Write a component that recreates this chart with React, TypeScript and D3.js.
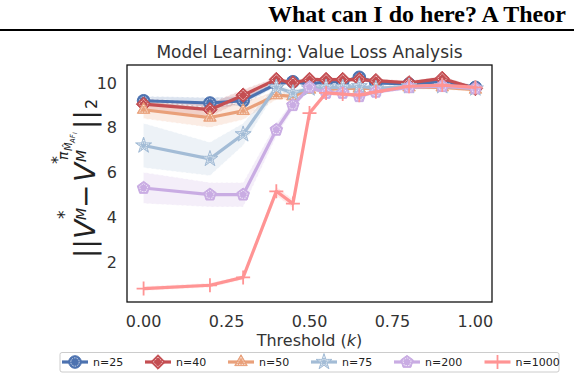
import React from "react";
import * as d3 from "d3";

// threshold values (k) sampled in the experiment
const thresholds = [0, 0.2, 0.3, 0.4, 0.45, 0.5, 0.55, 0.6, 0.65, 0.7, 0.8, 0.9, 1.0];

// mean value loss per sample size
const loss25 = [9.2, 9.1, 9.2, 9.95, 10.05, 9.95, 10.05, 10.05, 10.25, 10.0, 9.95, 10.05, 9.8];
const loss40 = [9.05, 8.8, 9.45, 10.15, 10.0, 10.15, 10.15, 10.15, 10.15, 10.1, 10.0, 10.2, 9.75];
const loss50 = [8.8, 8.45, 8.75, 9.45, 9.4, 9.7, 9.7, 9.75, 9.75, 9.75, 9.8, 9.8, 9.7];
const loss75 = [7.2, 6.6, 7.7, 9.8, 9.55, 9.75, 9.8, 9.8, 9.85, 9.75, 9.85, 9.85, 9.75];
const loss200 = [5.3, 5.0, 5.0, 7.9, 9.0, 9.8, 9.55, 9.55, 9.4, 9.6, 9.8, 9.85, 9.75];
const loss1000 = [0.8, 0.95, 1.3, 5.15, 4.6, 8.65, 9.55, 9.5, 9.45, 9.6, 9.85, 9.9, 9.8];

// half width of the shaded band
const spread25 = [0.2, 0.25, 0.2, 0.1, 0.1, 0.1, 0.1, 0.1, 0.1, 0.1, 0.1, 0.1, 0.1];
const spread40 = [0.25, 0.3, 0.25, 0.1, 0.1, 0.1, 0.1, 0.1, 0.1, 0.1, 0.1, 0.1, 0.1];
const spread50 = [0.4, 0.45, 0.4, 0.2, 0.15, 0.1, 0.1, 0.1, 0.1, 0.1, 0.1, 0.1, 0.1];
const spread75 = [1.0, 0.75, 0.5, 0.15, 0.15, 0.1, 0.1, 0.1, 0.1, 0.1, 0.1, 0.1, 0.1];
const spread200 = [0.7, 0.55, 0.55, 0.3, 0.2, 0.1, 0.1, 0.1, 0.1, 0.1, 0.1, 0.1, 0.1];
const spread1000 = [0.1, 0.1, 0.1, 0.2, 0.2, 0.15, 0.1, 0.1, 0.1, 0.1, 0.1, 0.1, 0.1];

const seriesNames = ["n=25", "n=40", "n=50", "n=75", "n=200", "n=1000"];
const seriesColors = ["#4c72b0", "#c44e52", "#e9a07a", "#a3bcd6", "#c9ace3", "#ff9494"];
const seriesMarkers = ["circle", "diamond", "triangle", "star", "pentagon", "plus"];
const seriesLoss = [loss25, loss40, loss50, loss75, loss200, loss1000];
const seriesSpread = [spread25, spread40, spread50, spread75, spread200, spread1000];

const xTicks = [0, 0.25, 0.5, 0.75, 1.0];
const yTicks = [2, 4, 6, 8, 10];

const W = 574;
const H = 374;
const frame = { left: 127, right: 492, top: 65, bottom: 302 };
const font = "DejaVu Sans, sans-serif";

const x = d3.scaleLinear().domain([-0.05, 1.05]).range([frame.left, frame.right]);
const y = d3.scaleLinear().domain([0.2, 10.8]).range([frame.bottom, frame.top]);

function polygon(n: number, r: number, rot = -Math.PI / 2) {
  const pts = d3.range(n).map((i) => {
    const a = rot + (i * 2 * Math.PI) / n;
    return [r * Math.cos(a), r * Math.sin(a)];
  });
  return "M" + pts.map((p) => p.join(",")).join("L") + "Z";
}

function markerPath(kind: string, r: number) {
  if (kind === "circle") return d3.symbol(d3.symbolCircle, Math.PI * r * r)()!;
  if (kind === "diamond") return `M0,${-r * 1.15}L${r * 1.15},0L0,${r * 1.15}L${-r * 1.15},0Z`;
  if (kind === "triangle") return polygon(3, r * 1.15, -Math.PI / 2);
  if (kind === "star") return d3.symbol(d3.symbolStar, r * r * 2.0)()!;
  if (kind === "pentagon") return polygon(5, r * 1.05);
  return `M${-r},0L${r},0M0,${-r}L0,${r}`;
}

const Marker = ({ kind, color, cx, cy }: { kind: string; color: string; cx: number; cy: number }) => {
  if (kind === "plus") {
    return (
      <path d={markerPath(kind, 7)} transform={`translate(${cx},${cy})`} stroke={color} strokeWidth={1.8} fill="none" />
    );
  }
  return (
    <g transform={`translate(${cx},${cy})`}>
      <path d={markerPath(kind, 6.3)} fill={color} stroke={color} strokeWidth={1} />
      <path d={markerPath(kind, 4.2)} fill="none" stroke="#fff" strokeWidth={0.8} strokeDasharray="1.6,1" opacity={0.85} />
    </g>
  );
};

const line = d3.line<number>().x((_, i) => x(thresholds[i])).y((d) => y(d));

const App = () => {
  const legendGap = (label: string) => 53 + label.length * 7.5;
  const legendX: number[] = [];
  seriesNames.forEach((nm, i) => legendX.push(i === 0 ? 62 : legendX[i - 1] + legendGap(seriesNames[i - 1])));

  return (
    <svg width={W} height={H} style={{ position: "absolute", left: 0, top: 0, background: "#fff" }} fontFamily={font}>
      {/* page header (cropped running title) */}
      <text x={268} y={22} fontFamily="Liberation Serif, Times New Roman, serif" fontWeight="bold" fontSize={24} fill="#000">
        What can I do here? A Theor
      </text>
      <line x1={0} x2={W} y1={30} y2={30} stroke="#000" strokeWidth={2} />

      <text x={(frame.left + frame.right) / 2} y={58} textAnchor="middle" fontSize={17} fill="#333">
        Model Learning: Value Loss Analysis
      </text>

      {/* bands */}
      {seriesLoss.map((vals, si) => {
        const area = d3
          .area<number>()
          .x((_, i) => x(thresholds[i]))
          .y0((d, i) => y(d - seriesSpread[si][i]))
          .y1((d, i) => y(d + seriesSpread[si][i]));
        const lo = d3.line<number>().x((_, i) => x(thresholds[i])).y((d, i) => y(d - seriesSpread[si][i]));
        const hi = d3.line<number>().x((_, i) => x(thresholds[i])).y((d, i) => y(d + seriesSpread[si][i]));
        return (
          <g key={"band" + si}>
            <path d={area(vals)!} fill={seriesColors[si]} opacity={0.2} />
            <path d={lo(vals)!} fill="none" stroke="#fff" strokeWidth={1} strokeDasharray="3,2" opacity={0.8} />
            <path d={hi(vals)!} fill="none" stroke="#fff" strokeWidth={1} strokeDasharray="3,2" opacity={0.8} />
          </g>
        );
      })}

      {/* lines and markers */}
      {seriesLoss.map((vals, si) => (
        <g key={"s" + si}>
          <path d={line(vals)!} fill="none" stroke={seriesColors[si]} strokeWidth={3.2} strokeLinejoin="round" />
          {vals.map((v, i) => (
            <Marker key={i} kind={seriesMarkers[si]} color={seriesColors[si]} cx={x(thresholds[i])} cy={y(v)} />
          ))}
        </g>
      ))}

      {/* frame */}
      <rect
        x={frame.left}
        y={frame.top}
        width={frame.right - frame.left}
        height={frame.bottom - frame.top}
        fill="none"
        stroke="#111"
        strokeWidth={1.3}
      />

      {/* ticks */}
      {xTicks.map((t) => (
        <text key={t} x={x(t)} y={327} textAnchor="middle" fontSize={16} fill="#333">
          {t.toFixed(2)}
        </text>
      ))}
      {yTicks.map((t) => (
        <text key={t} x={117} y={y(t)} dy="0.36em" textAnchor="end" fontSize={16} fill="#333">
          {t}
        </text>
      ))}

      <text x={(frame.left + frame.right) / 2} y={346} textAnchor="middle" fontSize={16} fill="#333">
        Threshold (<tspan fontStyle="italic">k</tspan>)
      </text>

      {/* y label: ||V*_M - V*^{pi}_M||_2 */}
      <g fill="#222">
        <text transform="translate(95,258) rotate(-90)" fontSize={28}>||</text>
        <text transform="translate(95,239) rotate(-90)" fontSize={28} fontStyle="italic">V</text>
        <text transform="translate(70,219) rotate(-90)" fontSize={17}>*</text>
        <text transform="translate(86,220) rotate(-90)" fontSize={14} fontStyle="italic">M</text>
        <text transform="translate(95,208) rotate(-90)" fontSize={28}>−</text>
        <text transform="translate(95,182) rotate(-90)" fontSize={28} fontStyle="italic">V</text>
        <text transform="translate(63,164) rotate(-90)" fontSize={16}>*</text>
        <text transform="translate(86,162) rotate(-90)" fontSize={14} fontStyle="italic">M</text>
        <text transform="translate(68,160) rotate(-90)" fontSize={14} fontStyle="italic">π</text>
        <text transform="translate(72,151) rotate(-90)" fontSize={10} fontStyle="italic">M̂</text>
        <text transform="translate(75,143) rotate(-90)" fontSize={7} fontStyle="italic">AF</text>
        <text transform="translate(77,134) rotate(-90)" fontSize={6} fontStyle="italic">I</text>
        <text transform="translate(95,129) rotate(-90)" fontSize={28}>||</text>
        <text transform="translate(97,109) rotate(-90)" fontSize={16}>2</text>
      </g>

      {/* legend */}
      <rect x={60} y={352.5} width={499} height={19.5} rx={2} fill="#fff" stroke="#ccc" strokeWidth={1} />
      {seriesNames.map((nm, i) => (
        <g key={nm}>
          <line
            x1={legendX[i]}
            x2={legendX[i] + 26}
            y1={362}
            y2={362}
            stroke={seriesColors[i]}
            strokeWidth={3.2}
          />
          <Marker kind={seriesMarkers[i]} color={seriesColors[i]} cx={legendX[i] + 13} cy={362} />
          <text x={legendX[i] + 31} y={362} dy="0.36em" fontSize={11} fill="#222">
            {nm}
          </text>
        </g>
      ))}
    </svg>
  );
};

export default App;
